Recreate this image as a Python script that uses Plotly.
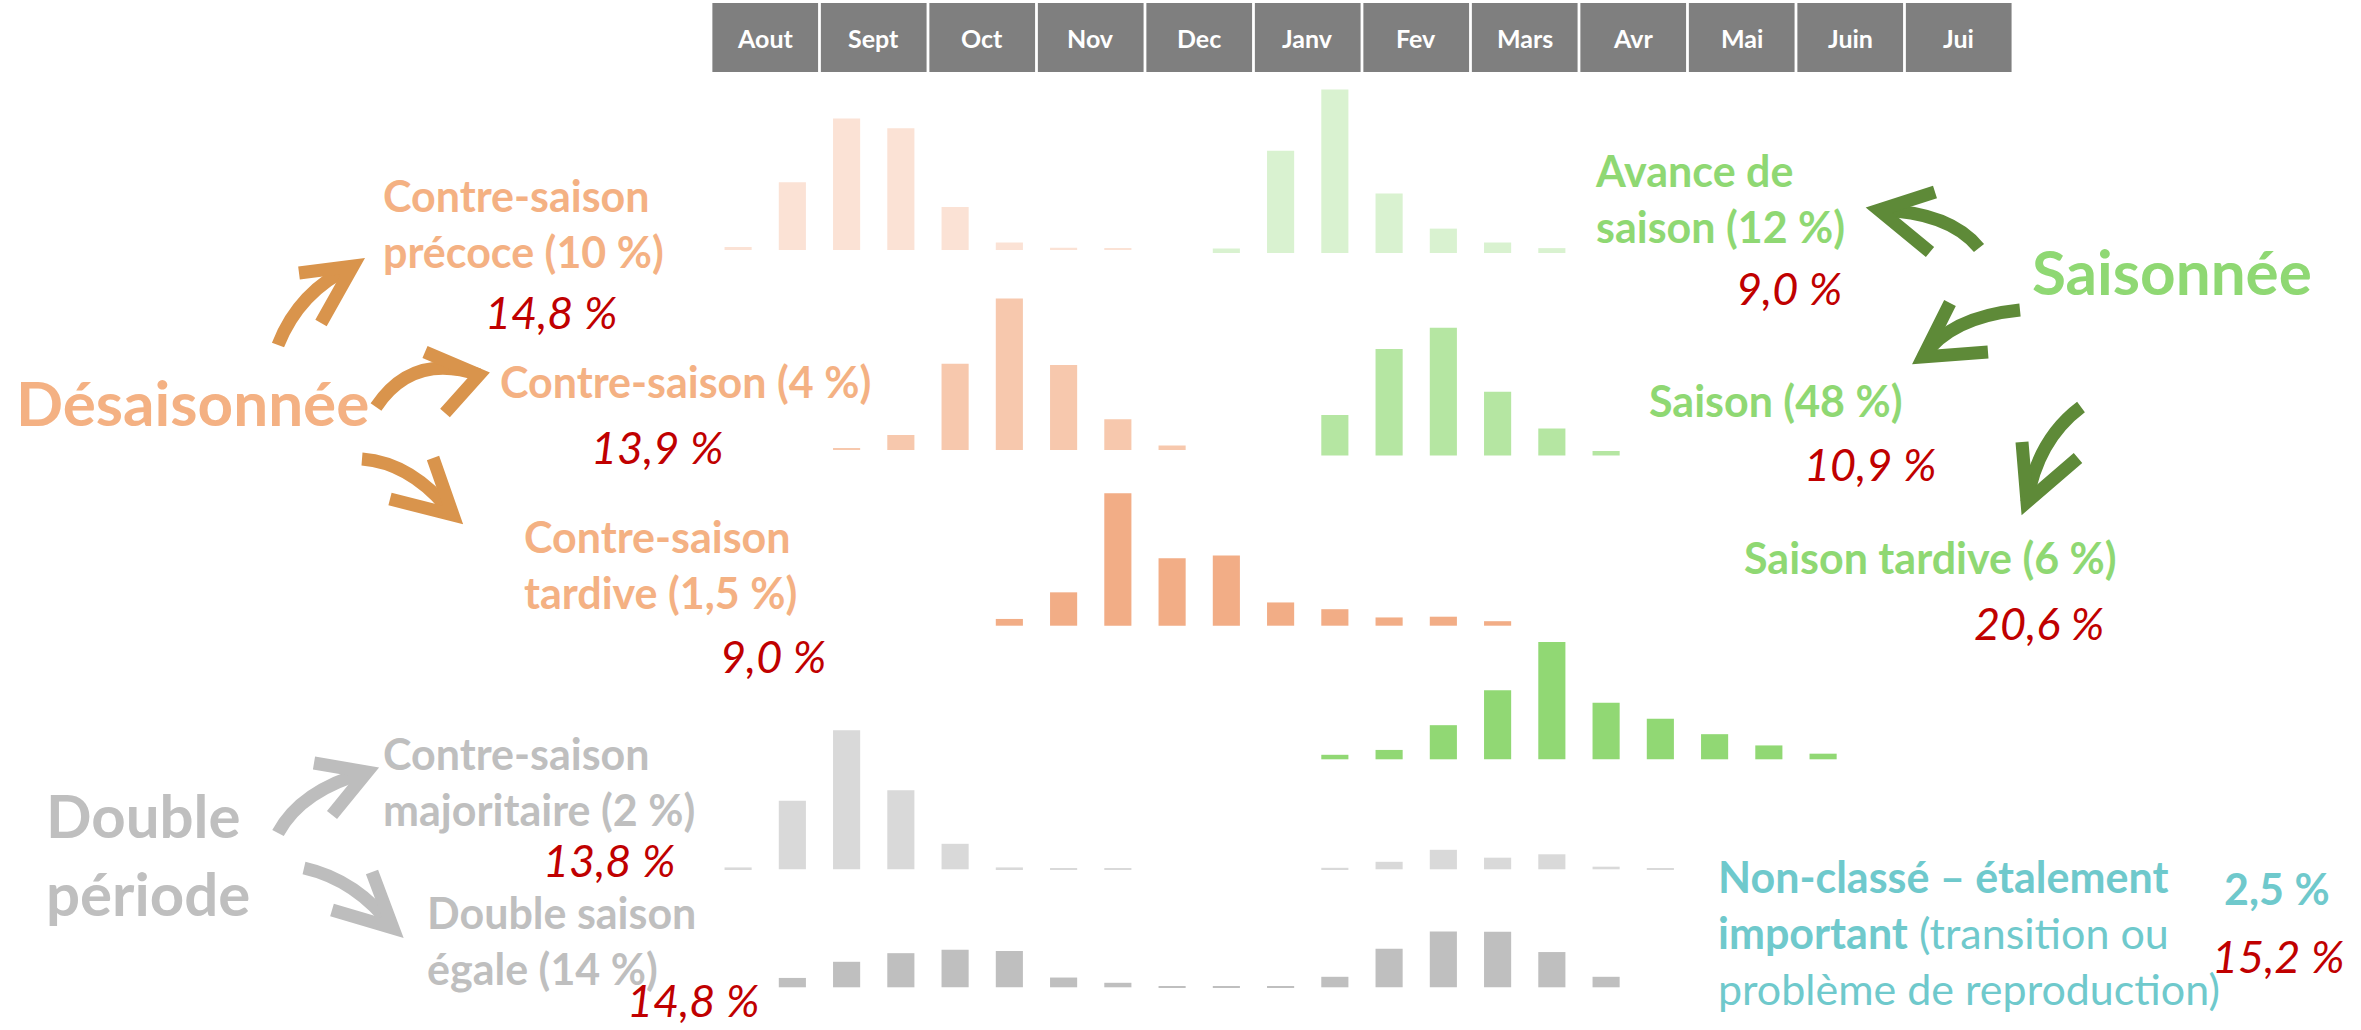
import plotly.graph_objects as go

W, H = 2361, 1030

# ---------------- data ----------------
months = ["Aout", "Sept", "Oct", "Nov", "Dec", "Janv", "Fev", "Mars", "Avr", "Mai", "Juin", "Jui"]
half_months = [f"{m} {i}" for m in months for i in (1, 2)]  # 24 half-month slots

# catch distributions (% per half-month), each list starts at the given slot
precoce_start = "Aout 1"
precoce = [0.8, 18.1, 35.1, 32.5, 11.5, 2.0, 0.6, 0.4]
avance_start = "Dec 2"
avance = [1.2, 27.3, 43.6, 15.9, 6.5, 2.8, 1.3]
contre_start = "Sept 1"
contre = [0.3, 4.0, 23.0, 40.4, 22.7, 8.2, 1.2]
saison_start = "Janv 2"
saison = [10.8, 28.4, 34.1, 17.0, 7.2, 1.2]
cs_tardive_start = "Oct 2"
cs_tardive = [1.8, 8.9, 35.3, 18.0, 18.7, 6.2, 4.4, 2.2, 2.4, 1.2]
s_tardive_start = "Janv 2"
s_tardive = [1.2, 2.5, 9.1, 18.4, 31.3, 15.1, 10.8, 6.7, 3.7, 1.5]
majoritaire_start = "Aout 1"
majoritaire = [0.5, 18.3, 37.1, 21.1, 6.8, 0.5, 0.2, 0.3, 0, 0, 0, 0.4, 2.0, 5.2, 3.1, 4.0, 0.7, 0.1]
egale_start = "Aout 2"
egale = [2.5, 6.8, 9.1, 10.0, 9.7, 2.6, 1.2, 0.3, 0.2, 0.2, 2.8, 10.3, 14.9, 14.8, 9.4, 2.8]

# ---------------- layout helpers ----------------
SLOT = 54.25          # px per half-month slot
X0 = 738.1            # px centre of first slot
PX_PER_PCT = 3.75     # px per % of height


def px(x):
    return x / W


def py(y):
    return 1 - y / H


def base_of(baseline_px):
    return (H - baseline_px) / PX_PER_PCT


fig = go.Figure()


def add_series(start, vals, color, baseline_px):
    i0 = half_months.index(start)
    xs = list(range(i0, i0 + len(vals)))
    fig.add_trace(go.Bar(
        x=xs, y=vals, base=base_of(baseline_px), width=0.5,
        marker=dict(color=color, line=dict(width=0)),
        hovertext=[half_months[i] for i in xs], hoverinfo="text+y",
        showlegend=False))


add_series(precoce_start, precoce, "#FBE2D5", 250)
add_series(avance_start, avance, "#D9F2D0", 253)
add_series(contre_start, contre, "#F7C8AD", 450)
add_series(saison_start, saison, "#B5E6A2", 455.5)
add_series(cs_tardive_start, cs_tardive, "#F2AD86", 625.7)
add_series(s_tardive_start, s_tardive, "#91D874", 759.3)
add_series(majoritaire_start, majoritaire, "#D9D9D9", 869.3)
add_series(egale_start, egale, "#BFBFBF", 987.3)

shapes = []
annotations = []

# header month boxes
g = 1.4 / SLOT
for m, name in enumerate(months):
    shapes.append(dict(type="rect", xref="x", yref="paper",
                       x0=2 * m - 0.5 + g, x1=2 * m + 1.5 - g,
                       y0=py(72), y1=py(3), fillcolor="#7F7F7F", line=dict(width=0), layer="below"))
    annotations.append(dict(x=2 * m + 0.5, xref="x", y=py(38), yref="paper", text=f"<b>{name}</b>",
                            showarrow=False, font=dict(family="Lato", size=25, color="white"),
                            xanchor="center", yanchor="middle"))

PEACH = "#F4B183"
GREEN = "#8FD873"
GREY = "#BFBFBF"
TEAL = "#6FC9CC"
RED = "#C00000"
LBL = 43


def ann(text, x, y, size, color, xanchor="left", align="left"):
    annotations.append(dict(x=px(x), y=py(y), xref="paper", yref="paper", text=text,
                            showarrow=False, xanchor=xanchor, yanchor="middle", align=align,
                            font=dict(family="Lato", size=size, color=color)))


def red(text, x, y):
    ann(f"<i>{text}</i>", x, y, 45, RED, xanchor="center", align="center")


# Désaisonnée group
ann("<b>Désaisonnée</b>", 14, 402, 62, PEACH)
ann("<b>Contre-saison<br>précoce (10 %)</b>", 381, 223, LBL, PEACH)
red("14,8 %", 551, 312)
ann("<b>Contre-saison (4 %)</b>", 498, 381, LBL, PEACH)
red("13,9 %", 657, 447)
ann("<b>Contre-saison<br>tardive (1,5 %)</b>", 522, 564, LBL, PEACH)
red("9,0 %", 773, 656)

# Double période group
ann("<b>Double<br>période</b>", 44, 854, 60, GREY)
ann("<b>Contre-saison<br>majoritaire (2 %)</b>", 381, 781, LBL, GREY)
red("13,8 %", 609, 860)
ann("<b>Double saison<br>égale (14 %)</b>", 425, 940, LBL, GREY)
red("14,8 %", 693, 1000)

# Saisonnée group
ann("<b>Saisonnée</b>", 2030, 271, 62, GREEN)
ann("<b>Avance de<br>saison (12 %)</b>", 1593, 199, LBL, GREEN)
red("9,0 %", 1789, 288)
ann("<b>Saison (48 %)</b>", 1647, 400, LBL, GREEN)
red("10,9 %", 1870, 464)
ann("<b>Saison tardive (6 %)</b>", 1742, 557, LBL, GREEN)
red("20,6 %", 2039, 623)

# Non-classé
ann("<b>Non-classé – étalement</b><br><b>important</b> (transition ou<br>problème de reproduction)",
    1716, 932, 43, TEAL)
ann("<b>2,5 %</b>", 2277, 888, 43, TEAL, xanchor="center", align="center")
red("15,2 %", 2278, 956)


# hand-drawn style arrows
def arrow(tail, ctrl, tip, p1, p2, color, width=13):
    body = (f"M {px(tail[0])},{py(tail[1])} Q {px(ctrl[0])},{py(ctrl[1])} "
            f"{px(tip[0])},{py(tip[1])}")
    head = (f"M {px(p1[0])},{py(p1[1])} L {px(tip[0])},{py(tip[1])} "
            f"L {px(p2[0])},{py(p2[1])}")
    for p in (body, head):
        shapes.append(dict(type="path", path=p, xref="paper", yref="paper",
                           line=dict(color=color, width=width)))


OR = "#D9944C"
GA = "#BDBDBD"
GR = "#5E8A38"
arrow((278, 345), (299, 291), (353, 266), (299, 273), (321, 323), OR)
arrow((376, 407), (413, 352), (479, 375), (425, 352), (445, 413), OR)
arrow((362, 459), (413, 463), (453, 515), (433, 458), (390, 499), OR)
arrow((278, 833), (301, 790), (367, 772), (314, 763), (332, 815), GA)
arrow((304, 868), (357, 880), (393, 928), (372, 872), (332, 910), GA)
arrow((1979, 248), (1950, 212), (1879, 210), (1935, 192), (1930, 252), GR)
arrow((2020, 310), (1950, 317), (1923, 357), (1950, 303), (1988, 352), GR)
arrow((2081, 407), (2037, 440), (2027, 502), (2022, 442), (2078, 458), GR)

fig.update_layout(
    width=W, height=H, autosize=False,
    margin=dict(l=0, r=0, t=0, b=0, pad=0),
    paper_bgcolor="white", plot_bgcolor="white",
    barmode="overlay", showlegend=False,
    xaxis=dict(range=[-X0 / SLOT, (W - X0) / SLOT], visible=False, fixedrange=True),
    yaxis=dict(range=[0, H / PX_PER_PCT], visible=False, fixedrange=True),
    shapes=shapes, annotations=annotations,
)

fig.write_html("out.html", config={"displayModeBar": False},
               post_script="document.body.style.margin='0';document.body.style.overflow='hidden';")
